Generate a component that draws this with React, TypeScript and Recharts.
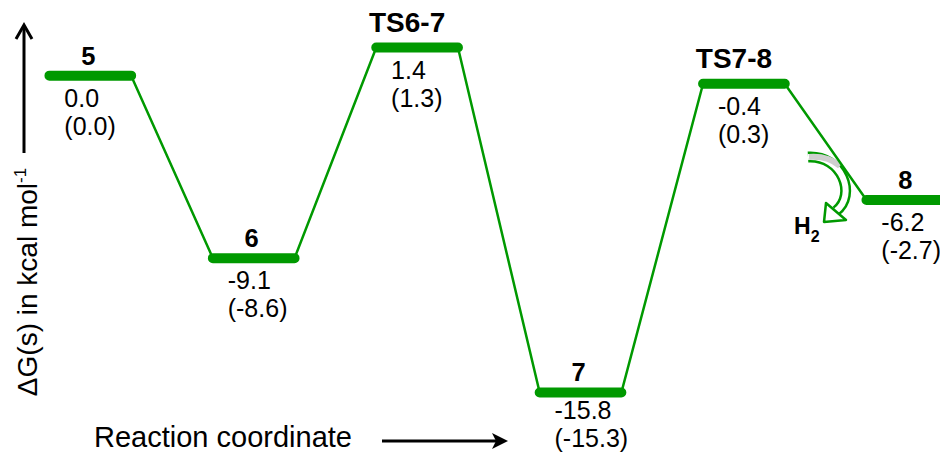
import * as React from "react";
import { ComposedChart, Line, Scatter, XAxis, YAxis } from "recharts";

// states along the reaction coordinate
const STATES = ["5", "6", "TS6-7", "7", "TS7-8", "8"];
// ΔG(s), kcal/mol
const DG_S = [0.0, -9.1, 1.4, -15.8, -0.4, -6.2];
// values in brackets
const DG_ALT = [0.0, -8.6, 1.3, -15.3, 0.3, -2.7];

const GREEN = "#009900";
const FONT = "Arial, 'Liberation Sans', sans-serif";
const HALF = 0.25; // half width of a level, in state units

const levels = STATES.map((name, i) => ({ x: i, v: DG_S[i], alt: DG_ALT[i], name }));

// thick level bars, broken between states
const barData = levels.flatMap((p) => [
  { x: p.x - HALF, v: p.v },
  { x: p.x + HALF, v: p.v },
  { x: p.x + 0.5, v: null },
]);

// thin path through all levels
const pathData = levels.flatMap((p) => [
  { x: p.x - HALF, v: p.v },
  { x: p.x + HALF, v: p.v },
]);

function StateLabel(props: any) {
  const { cx, cy, payload } = props;
  if (cx == null || cy == null) return null;
  const ts = payload.name.length > 1;
  // keep the bracket line inside the frame for the deepest level
  const altY = Math.min(cy + 59, 447);
  const valY = Math.min(cy + 31, altY - 28);
  return (
    <g fontFamily={FONT} fill="#000">
      <text
        x={cx + (ts ? -10 : -2)}
        y={cy - (ts ? 16 : 11)}
        textAnchor="middle"
        fontWeight="bold"
        fontSize={ts ? 28 : 25.5}
      >
        {payload.name}
      </text>
      <text x={cx - 26} y={valY} fontSize={25}>
        {payload.v.toFixed(1)}
      </text>
      <text x={cx - 26} y={altY} fontSize={25}>
        ({payload.alt.toFixed(1)})
      </text>
    </g>
  );
}

const ARC = "M 808 157 C 842 155, 857 195, 836 211";

function Decorations() {
  return (
    <svg
      width={940}
      height={455}
      style={{ position: "absolute", left: 0, top: 0 }}
      fontFamily={FONT}
    >
      {/* energy axis arrow */}
      <line x1={24} y1={153} x2={24} y2={26} stroke="#000" strokeWidth={3} />
      <polyline
        points="16,39 24,25 32,39"
        fill="none"
        stroke="#000"
        strokeWidth={3}
      />
      <text transform="translate(37,282) rotate(-90)" textAnchor="middle" fontSize={28}>
        ΔG(s) in kcal mol
        <tspan fontSize={17} dy={-11}>
          -1
        </tspan>
      </text>

      {/* reaction coordinate */}
      <text x={94} y={447} fontSize={29}>
        Reaction coordinate
      </text>
      <line x1={382} y1={441} x2={496} y2={441} stroke="#000" strokeWidth={3} />
      <polygon points="508,441 492,433 496,441 492,449" fill="#000" />

      {/* H2 release arrow */}
      <path d={ARC} fill="none" stroke={GREEN} strokeWidth={11} />
      <path d={ARC} fill="none" stroke="#fff" strokeWidth={6} />
      <path
        d="M 809 157 C 823 156, 833 160, 840 166"
        fill="none"
        stroke="#cfcfcf"
        strokeWidth={6}
      />
      <polygon
        points="824,222 826,203 846,220"
        fill="#fff"
        stroke={GREEN}
        strokeWidth={2.5}
        strokeLinejoin="round"
      />
      <text x={794} y={234} fontSize={23} fontWeight="bold">
        H
        <tspan fontSize={16} dy={8}>
          2
        </tspan>
      </text>
    </svg>
  );
}

export default function App() {
  return (
    <div
      style={{
        position: "absolute",
        left: 0,
        top: 0,
        width: 940,
        height: 455,
        background: "#fff",
        overflow: "hidden",
      }}
    >
      <Decorations />
      <div style={{ position: "absolute", left: 0, top: 0 }}>
        <ComposedChart
          width={940}
          height={455}
          margin={{ top: 15.5, right: 0, bottom: 18.4, left: 8.6 }}
        >
          <XAxis
            xAxisId="bars"
            type="number"
            dataKey="x"
            domain={[-0.5, 5.2]}
            allowDataOverflow
            hide
          />
          <XAxis xAxisId="lab" type="number" dataKey="x" domain={[-0.5, 5.2]} hide />
          <YAxis type="number" domain={[-18, 3]} hide />
          <Line
            xAxisId="bars"
            data={pathData}
            dataKey="v"
            stroke={GREEN}
            strokeWidth={2.5}
            dot={false}
            activeDot={false}
            isAnimationActive={false}
          />
          <Line
            xAxisId="bars"
            data={barData}
            dataKey="v"
            stroke={GREEN}
            strokeWidth={10}
            strokeLinecap="round"
            dot={false}
            activeDot={false}
            connectNulls={false}
            isAnimationActive={false}
          />
          <Scatter
            xAxisId="lab"
            data={levels}
            dataKey="v"
            shape={StateLabel}
            isAnimationActive={false}
          />
        </ComposedChart>
      </div>
    </div>
  );
}
